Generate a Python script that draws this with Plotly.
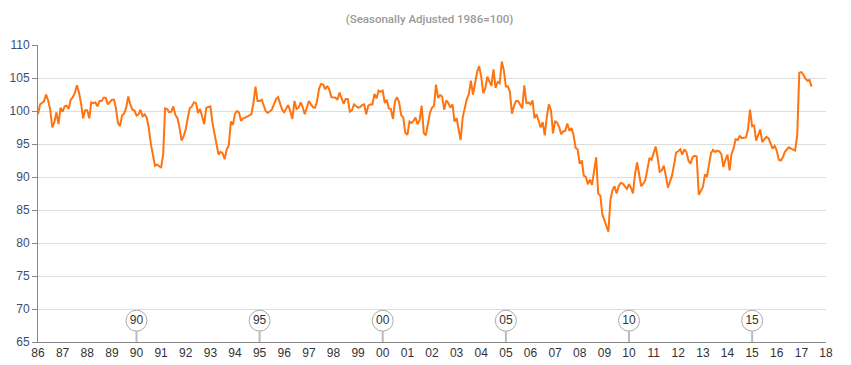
import pandas as pd
import plotly.graph_objects as go

# Monthly index values, Jan 1986 .. Jun 2017 (1986=100, seasonally adjusted)
values_1986_1991 = [
    99.5, 101, 101.2, 101.5, 102.5, 101.6, 100.2, 97.5, 98.3, 99.8, 98.0, 100.5,
    99.9, 100.7, 100.8, 100.3, 101.7, 102.1, 102.7, 103.9, 102.8, 101.2, 98.9, 100.1,
    100.1, 98.9, 101.3, 101.2, 101.3, 100.7, 101.5, 101.5, 102, 102, 101, 101.3,
    101.7, 101.7, 100.5, 98.2, 97.7, 99.3, 99.6, 100.5, 102.2, 101, 100.2, 100.1,
    99.3, 99.5, 100.2, 99.2, 99.5, 99, 97.5, 95.1, 93, 91.7, 91.9, 91.7,
    91.4, 93.5, 100.4, 100.3, 99.8, 99.9, 100.7, 99.4, 98.9, 97.5, 95.5, 96.2,
]
values_1992_1997 = [
    97.2, 99, 100.4, 100.7, 101.3, 101.2, 99.7, 100.3, 99.0, 98.0, 100.5, 100.6,
    100.7, 98.2, 96.6, 94.6, 93.4, 93.8, 93.6, 92.7, 94.2, 94.8, 98.4, 97.9,
    99.6, 100, 99.8, 98.5, 98.9, 99, 99.2, 99.3, 99.5, 101.2, 103.7, 101.5,
    101.5, 101.7, 100.8, 100, 99.7, 99.9, 100.2, 101, 101.8, 102.1, 101.1, 100.2,
    99.8, 100.3, 100.9, 99.9, 98.8, 101.5, 100.3, 100.5, 101.3, 100.6, 99.5, 100.5,
    101.5, 101, 100.6, 100.5, 101.4, 103.4, 104.1, 104, 103.3, 103.8, 103.2, 102.1,
]
values_1998_2003 = [
    102, 102, 101.7, 102.8, 101.9, 101.1, 101.8, 101.8, 99.9, 100.1, 101, 100.7,
    100.5, 100.6, 100.9, 101, 99.5, 100.8, 101, 101, 102.6, 101.9, 103.1, 102.9,
    103.1, 101.2, 101.7, 100.4, 100.3, 98.8, 101.5, 102.1, 101.3, 99.4, 99, 96.7,
    96.4, 98.4, 98.2, 98.5, 99, 98, 98.6, 100.8, 96.7, 96.3, 97.9, 99.7,
    100.5, 100.8, 104, 102, 102.4, 102.2, 100.2, 101.6, 101.2, 100.5, 101, 98.4,
    98.9, 97.1, 95.6, 99, 100.3, 101.8, 102.5, 104.6, 102.5, 104.5, 105.9, 106.8,
]
values_2004_2009 = [
    105.2, 102.7, 103.4, 105.2, 104.4, 103.8, 106.3, 103.5, 104.4, 104.2, 107.5, 106.2,
    103.7, 103.7, 102.9, 99.6, 100.8, 101.5, 101.5, 100.9, 100.4, 103.9, 101.2, 101.3,
    101, 101.6, 98.9, 99.5, 98.3, 97.5, 98.3, 96.3, 99.2, 101, 100.1, 96.6,
    98.5, 98.2, 97.6, 96.5, 96.9, 97, 98.1, 97, 97.4, 96.4, 94.4, 94.2,
    92, 92.5, 90.2, 90, 88.9, 89.6, 88.8, 91.2, 93, 87.5, 87.2, 84.4,
    83.4, 82.4, 81.7, 86.6, 88, 88.6, 87.5, 88.6, 89.1, 89, 88.5, 88.2,
]
values_2010_2017 = [
    88.9, 88.3, 87.5, 90.5, 92.2, 90.1, 88.6, 89, 89.6, 91.2, 92.9, 92.6,
    93.6, 94.6, 93, 90.8, 91, 91.7, 90.2, 88.4, 89.3, 90.2, 91.9, 93.7,
    93.9, 94.2, 93.4, 94.2, 93.8, 92.5, 92, 93, 93.2, 93.1, 87.3, 87.8,
    88.5, 90.4, 90, 91.8, 93.6, 94.1, 93.8, 94, 93.9, 93.5, 91.5, 92.6,
    93.4, 91, 93.5, 94.3, 95.7, 95.6, 96.2, 95.9, 95.9, 96, 97.2, 100.2,
    97.7, 97.8, 95.5, 96.3, 97.2, 95.3, 95.8, 96.1, 95.9, 95.2, 94.3, 94.7,
    94, 92.6, 92.5, 93, 93.8, 94.2, 94.5, 94.3, 94.2, 94, 96.5, 105.8,
    105.9, 105.5, 104.9, 104.6, 104.7, 103.7,
]
values = values_1986_1991 + values_1992_1997 + values_1998_2003 + values_2004_2009 + values_2010_2017
dates = pd.date_range("1986-01-01", periods=len(values), freq="MS")

flag_years = ["1990", "1995", "2000", "2005", "2010", "2015"]
flag_labels = ["90", "95", "00", "05", "10", "15"]
y_ticks = [65, 70, 75, 80, 85, 90, 95, 100, 105, 110]

flag_dates = [f"{y}-01-01" for y in flag_years]
flag_y = 68.23
stem_top = 66.7

fig = go.Figure()

# flag stems
for d in flag_dates:
    fig.add_shape(type="line", x0=d, x1=d, y0=65, y1=stem_top, xref="x", yref="y",
                  line=dict(color="#bbbbbb", width=2), layer="above")

fig.add_trace(go.Scatter(
    x=dates, y=values, mode="lines",
    line=dict(color="#ff7410", width=2),
    hoverinfo="x+y", showlegend=False,
))

fig.add_trace(go.Scatter(
    x=flag_dates, y=[flag_y] * len(flag_dates), mode="markers+text",
    text=flag_labels, textposition="middle center",
    textfont=dict(family="Liberation Sans, Arial, sans-serif", size=12, color="#333333"),
    marker=dict(symbol="circle", size=21, color="white",
                line=dict(color="#aaaaaa", width=1)),
    cliponaxis=False, showlegend=False, hoverinfo="skip",
))

# page body has an 8px default margin, so the figure is sized to fit the window
fig.update_layout(
    width=843, height=357,
    margin=dict(l=30, r=25, t=37, b=23, autoexpand=False),
    paper_bgcolor="white", plot_bgcolor="white",
    font=dict(family="Liberation Sans, Arial, sans-serif", size=12, color="#444444"),
    title=dict(
        text="(Seasonally Adjusted 1986=100)",
        x=0.5, xanchor="center", y=0.969, yanchor="middle",
        font=dict(family="Roboto, sans-serif", size=11.5, weight=500, color="#9a9a9a"),
    ),
    xaxis=dict(
        type="date",
        range=["1986-01-01", "2018-01-01"],
        tick0="1986-01-01", dtick="M12", tickformat="%y",
        showgrid=False, zeroline=False,
        showline=True, linecolor="#888888", linewidth=1,
        ticks="", tickfont=dict(size=12, color="#333333"),
        automargin=False, fixedrange=True,
    ),
    yaxis=dict(
        range=[65, 110],
        tickvals=y_ticks,
        showgrid=True, gridcolor="#dddddd", gridwidth=1,
        zeroline=False,
        showline=True, linecolor="#888888", linewidth=1,
        ticks="outside", ticklen=5, tickcolor="#888888",
        tickfont=dict(size=12, color="#3d4d70"),
        automargin=False, fixedrange=True,
    ),
)

fig.write_html("out.html")
